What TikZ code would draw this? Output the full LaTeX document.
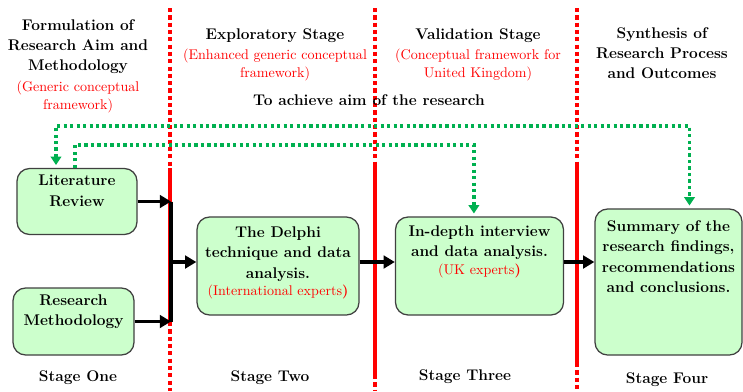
\documentclass[tikz,border=0pt]{standalone}
\usepackage{xcolor}
\usetikzlibrary{arrows.meta}
\usetikzlibrary{positioning}
\definecolor{boxgreen}{HTML}{CCFFCC}
\definecolor{dotgreen}{HTML}{00B050}
\tikzstyle{line} = [draw, line width=2.6pt, -{Triangle[length=8pt,width=9pt]}]
\tikzstyle{aim} = [draw=dotgreen, line width=2.3pt, dash pattern=on 2.3pt off 2.3pt]

\begin{document}
\begin{tikzpicture}[x=0.025cm, y=-0.025cm,
stage/.style={draw=black!75, line width=0.9pt, fill=boxgreen, rounded corners=9pt},
boxtext/.style={inner sep=0pt, align=center, font=\fontsize{11}{14.5}\selectfont\bfseries},
head/.style={inner sep=0pt, align=center, font=\fontsize{11}{14.2}\selectfont\bfseries},
note/.style={inner sep=0pt, align=center, text=red, font=\fontsize{10}{12.8}\selectfont},
border/.style={red, line width=3pt, dash pattern=on 3pt off 2.2pt},
wall/.style={red, line width=3pt},
tip/.style={-{Triangle[length=6pt,width=7.5pt]}},
tips/.style={{Triangle[length=6pt,width=7.5pt]}-{Triangle[length=6pt,width=7.5pt]}}]
\useasboundingbox (0,0) rectangle (743,391);
%% Stage borders
\draw [border] (170,8) -- (170,168);
\draw [wall] (170,168) -- (170,322);
\draw [border] (170,322) -- (170,391);
\draw [border] (375,8) -- (375,165);
\draw [wall] (375,165) -- (375,375);
\draw [border] (375,375) -- (375,391);
\draw [border] (577,8) -- (577,162);
\draw [wall] (577,162) -- (577,363);
\draw [border] (577,363) -- (577,391);
%% Headings
\node [head, anchor=north] (h1) at (78,19) {Formulation of\\Research Aim and\\Methodology};
\node [note, anchor=north] (n1) at (78,81) {(Generic conceptual\\framework)};
\node [head, anchor=north] (h2) at (275,28) {Exploratory Stage};
\node [note, anchor=north] (n2) at (275,49) {(Enhanced generic conceptual\\framework)};
\node [head, anchor=north] (h3) at (478,28) {Validation Stage};
\node [note, anchor=north] (n3) at (478,49) {(Conceptual framework for\\United Kingdom)};
\node [head, anchor=north] (h4) at (662,27) {Synthesis of\\Research Process\\and Outcomes};
\node [head] (goal) at (369,100) {To achieve aim of the research};
%% Boxes
\node [stage, minimum width=3cm, minimum height=1.65cm] (lit) at (77,201.5) {};
\node [boxtext, below=5pt of lit.north] (littext) {Literature\\Review};
\node [stage, minimum width=3.025cm, minimum height=1.675cm] (meth) at (73.5,321.5) {};
\node [boxtext, below=5pt of meth.north] (methtext) {Research\\Methodology};
\node [stage, minimum width=4.05cm, minimum height=2.45cm] (delphi) at (278,266) {};
\node [boxtext, below=7pt of delphi.north] (delphitext) {The Delphi\\technique and data\\analysis.\\[-2pt]
  {\mdseries\fontsize{10}{12.8}\selectfont\color{red}(International experts\textbf{)}}};
\node [stage, minimum width=4.2cm, minimum height=2.45cm] (indepth) at (479.5,266) {};
\node [boxtext, below=6.4pt of indepth.north] (indepthtext) {In-depth interview\\and data analysis.\\[-2pt]
  {\mdseries\fontsize{10}{12.8}\selectfont\color{red}(UK experts\textbf{)}}};
\node [stage, minimum width=3.675cm, minimum height=3.65cm] (sum) at (668.5,282) {};
\node [boxtext, below=8.5pt of sum.north] (sumtext) {Summary of the\\research findings,\\recommendations\\and conclusions.};
%% Stage names
\node [head] (s1) at (78,378) {Stage One};
\node [head] (s2) at (270,378) {Stage Two};
\node [head] (s3) at (465,377) {Stage Three};
\node [head] (s4) at (667,380) {Stage Four};
%% Flow
\coordinate (bus) at (171,262);
\path [line] (lit.east) -- (lit.east -| bus);
\path [line] (meth.east) -- (meth.east -| bus);
\draw [line width=2.6pt] (lit.east -| bus) -- (meth.east -| bus);
\path [line] (bus) -- (bus -| delphi.west);
\path [line] (bus -| delphi.east) -- (bus -| indepth.west);
\path [line] (bus -| indepth.east) -- (bus -| sum.west);
%% Aim links
\coordinate (outer) at (0,126);
\coordinate (inner) at (0,145);
\coordinate (litout) at ([xshift=-0.525cm]lit.north);
\coordinate (litin) at ([xshift=-0.05cm]lit.north);
\coordinate (sumin) at ([xshift=0.525cm]sum.north);
\coordinate (indin) at ([xshift=-0.14cm]indepth.north);
\path [aim, tips, shorten <=2pt, shorten >=2pt] (litout) |- (outer -| sumin) -- (sumin);
\path [aim, tip, shorten >=2pt] (litin) |- (inner -| indin) -- (indin);
\end{tikzpicture}
\end{document}
